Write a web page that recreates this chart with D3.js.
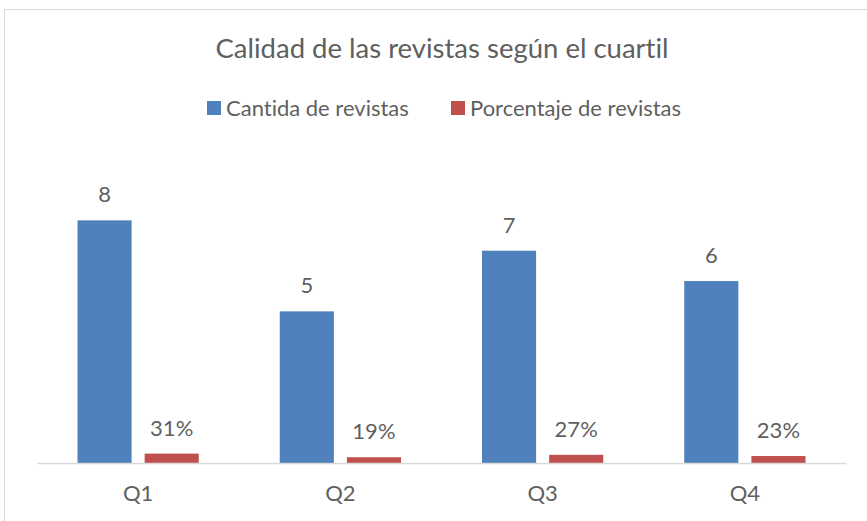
<!DOCTYPE html>
<html>
<head>
<meta charset="utf-8">
<script src="https://cdn.jsdelivr.net/npm/d3@7"></script>
<style>
  body { margin: 0; background: #fff; }
  svg { display: block; }
  text {
    font-family: Lato, "Open Sans", sans-serif;
    fill: #5f5f5f;
    font-variant-ligatures: none;
    font-feature-settings: "liga" 0, "clig" 0;
  }
</style>
</head>
<body>
<svg id="chart" width="867" height="521"></svg>
<script>
// Data
const quartiles = ["Q1", "Q2", "Q3", "Q4"];
const cantidad = [8, 5, 7, 6];
const porcentaje = [0.31, 0.19, 0.27, 0.23];
const seriesNames = ["Cantida de revistas", "Porcentaje de revistas"];
const seriesColors = ["#4f81bd", "#c0504d"];

const svg = d3.select("#chart");

// chart frame (cut off on the right and bottom like the original)
svg.append("rect")
    .attr("x", 4.5)
    .attr("y", 9.5)
    .attr("width", 900)
    .attr("height", 600)
    .attr("fill", "#fff")
    .attr("stroke", "#d9d9d9");

const axisLeft = 37, axisRight = 846, baseY = 463;

const x0 = d3.scaleBand()
    .domain(quartiles)
    .range([axisLeft, axisRight]);

const groupPad = 40.5;
const x1 = d3.scaleBand()
    .domain([0, 1])
    .range([groupPad, x0.bandwidth() - groupPad])
    .paddingInner(0.194);

const y = d3.scaleLinear()
    .domain([0, 9])
    .range([baseY, baseY - 9 * 30.33]);

const rows = quartiles.map((q, i) => ({
    q: q,
    values: [
        { s: 0, v: cantidad[i], label: String(cantidad[i]) },
        { s: 1, v: porcentaje[i], label: Math.round(porcentaje[i] * 100) + "%" }
    ]
}));

// Title
svg.append("text")
    .attr("x", 442)
    .attr("y", 58)
    .attr("text-anchor", "middle")
    .style("font-size", "27.5px")
    .text("Calidad de las revistas según el cuartil");

// Legend
const legendItems = [
    { x: 207, name: seriesNames[0], color: seriesColors[0] },
    { x: 451, name: seriesNames[1], color: seriesColors[1] }
];
const legend = svg.append("g");
legendItems.forEach(d => {
    legend.append("rect")
        .attr("x", d.x)
        .attr("y", 101)
        .attr("width", 14)
        .attr("height", 14)
        .attr("fill", d.color);
    legend.append("text")
        .attr("x", d.x + 19)
        .attr("y", 116)
        .style("font-size", "22px")
        .text(d.name);
});

// Bars
const groups = svg.append("g")
    .selectAll("g")
    .data(rows)
    .enter()
    .append("g")
    .attr("transform", d => `translate(${x0(d.q)},0)`);

groups.selectAll("rect")
    .data(d => d.values)
    .enter()
    .append("rect")
    .attr("x", d => x1(d.s))
    .attr("y", d => y(d.v))
    .attr("width", x1.bandwidth())
    .attr("height", d => y(0) - y(d.v))
    .attr("fill", d => seriesColors[d.s]);

groups.selectAll("text")
    .data(d => d.values)
    .enter()
    .append("text")
    .attr("x", d => x1(d.s) + x1.bandwidth() / 2)
    .attr("y", d => y(d.v) - 18)
    .attr("text-anchor", "middle")
    .style("font-size", "22px")
    .text(d => d.label);

// X axis
const xAxis = svg.append("g")
    .attr("transform", `translate(0,${baseY})`)
    .call(d3.axisBottom(x0).tickSize(0).tickPadding(22));
xAxis.select(".domain").attr("stroke", "#d9d9d9").attr("stroke-width", 1.5);
xAxis.selectAll("text")
    .style("font-size", "22px")
    .style("font-family", "Lato, \"Open Sans\", sans-serif")
    .attr("fill", "#5f5f5f");
</script>
</body>
</html>
